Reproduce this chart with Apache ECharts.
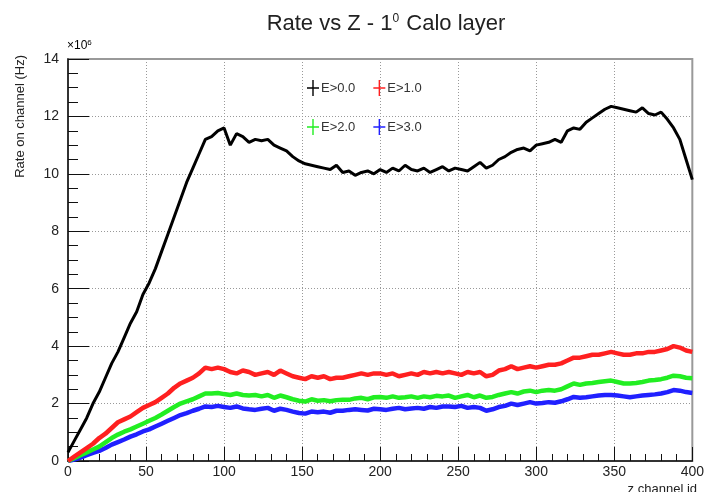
<!DOCTYPE html>
<html>
<head>
<meta charset="utf-8">
<script src="https://cdn.jsdelivr.net/npm/echarts@6/dist/echarts.min.js"></script>
<style>html,body{margin:0;padding:0;background:#fff}#c{width:707px;height:492px}</style>
</head>
<body>
<div id="c"></div>
<script>
// channel ids (z channel id), sampled every 4 channels
const channels = [0,4,8,12,16,20,24,28,32,36,40,44,48,52,56,60,64,68,72,76,80,84,88,92,96,100,
104,108,112,116,120,124,128,132,136,140,144,148,152,156,160,164,168,172,176,180,184,188,192,196,200,
204,208,212,216,220,224,228,232,236,240,244,248,252,256,260,264,268,272,276,280,284,288,292,296,300,
304,308,312,316,320,324,328,332,336,340,344,348,352,356,360,364,368,372,376,380,384,388,392,396,400];

// rates in units of 10^6 Hz
const rateE00 = [0.3,0.7,1.1,1.5,2.0,2.4,2.9,3.4,3.8,4.3,4.8,5.2,5.8,6.2,6.7,7.3,7.9,8.5,9.1,9.7,10.2,10.7,11.2,11.3,11.5,11.6,
11.0,11.4,11.3,11.1,11.2,11.15,11.2,11.0,10.9,10.8,10.6,10.45,10.35,10.3,10.25,10.2,10.15,10.3,10.05,10.1,9.95,10.05,10.1,10.0,10.15,
10.05,10.2,10.1,10.3,10.15,10.1,10.2,10.05,10.15,10.25,10.1,10.2,10.15,10.1,10.25,10.4,10.2,10.3,10.5,10.6,10.75,10.85,10.9,10.8,11.0,
11.05,11.1,11.2,11.1,11.5,11.6,11.55,11.8,11.95,12.1,12.25,12.35,12.3,12.25,12.2,12.15,12.3,12.1,12.05,12.15,11.9,11.6,11.2,10.5,9.8];

const rateE10 = [0.0,0.15,0.3,0.45,0.6,0.8,0.95,1.15,1.35,1.45,1.55,1.7,1.85,1.95,2.05,2.2,2.35,2.55,2.7,2.8,2.9,3.05,3.25,3.2,3.25,3.2,
3.1,3.05,3.15,3.1,3.0,3.05,3.1,3.0,3.15,3.05,2.95,2.9,2.85,2.95,2.9,2.95,2.85,2.9,2.9,2.95,3.0,3.05,3.0,3.05,3.05,
3.0,3.05,2.95,3.0,3.05,3.0,3.1,3.05,3.1,3.05,3.1,3.05,3.0,3.1,3.05,3.1,2.95,3.0,3.15,3.2,3.3,3.2,3.25,3.3,3.25,
3.3,3.35,3.35,3.4,3.5,3.6,3.6,3.65,3.7,3.7,3.75,3.8,3.75,3.7,3.7,3.75,3.75,3.8,3.8,3.85,3.9,4.0,3.95,3.85,3.8];

const rateE20 = [0.0,0.1,0.2,0.3,0.4,0.5,0.65,0.8,0.92,1.02,1.1,1.2,1.3,1.4,1.5,1.62,1.75,1.88,2.0,2.08,2.15,2.25,2.35,2.35,2.37,2.33,
2.3,2.35,2.3,2.28,2.3,2.25,2.3,2.2,2.28,2.22,2.15,2.1,2.07,2.15,2.1,2.12,2.08,2.12,2.13,2.13,2.18,2.2,2.15,2.22,2.23,
2.2,2.25,2.2,2.22,2.25,2.2,2.25,2.22,2.27,2.25,2.28,2.2,2.25,2.3,2.22,2.28,2.2,2.23,2.3,2.35,2.4,2.35,2.42,2.45,2.4,
2.45,2.47,2.45,2.5,2.6,2.7,2.65,2.7,2.72,2.75,2.78,2.8,2.75,2.7,2.7,2.72,2.75,2.8,2.82,2.85,2.9,2.97,2.95,2.9,2.88];

const rateE30 = [0.0,0.05,0.12,0.2,0.28,0.35,0.45,0.57,0.66,0.75,0.85,0.93,1.03,1.1,1.2,1.3,1.4,1.5,1.6,1.67,1.75,1.82,1.9,1.88,1.92,1.88,
1.85,1.9,1.83,1.8,1.78,1.82,1.85,1.75,1.82,1.78,1.72,1.67,1.65,1.72,1.7,1.72,1.68,1.75,1.75,1.78,1.8,1.78,1.76,1.82,1.8,
1.78,1.82,1.85,1.8,1.83,1.85,1.82,1.88,1.85,1.9,1.9,1.88,1.92,1.85,1.88,1.85,1.75,1.8,1.88,1.92,2.0,1.95,2.0,2.05,2.0,
2.02,2.05,2.03,2.08,2.15,2.23,2.2,2.22,2.25,2.28,2.3,2.3,2.28,2.25,2.22,2.25,2.28,2.3,2.32,2.35,2.4,2.47,2.45,2.4,2.37];

const seriesNames = ['E>0.0','E>1.0','E>2.0','E>3.0'];
const seriesColors = ['#000000','#ff2020','#22ee22','#2020ff'];
const seriesData = [rateE00, rateE10, rateE20, rateE30];

const crossIcon = 'path://M5.3,0H6.7V7.3H12V8.7H6.7V16H5.3V8.7H0V7.3H5.3Z';
const FONT = 'Liberation Sans, Arial, Helvetica, sans-serif';

const chart = echarts.init(document.getElementById('c'));
const legendBase = {
  left: 302, itemGap: 18, itemWidth: 12, itemHeight: 16, icon: crossIcon,
  textStyle: {fontFamily: FONT, fontSize: 13, color: '#333', padding: [0,0,0,-3]},
  selectedMode: false
};
chart.setOption({
  animation: false,
  title: {
    text: '{a|Rate vs Z - 1}{s|0}{a| Calo layer}',
    left: 381, top: 8, textAlign: 'center',
    textStyle: {fontWeight: 'normal', rich: {
      a: {fontFamily: FONT, fontSize: 22, fontWeight: 'normal', color: '#222'},
      s: {fontFamily: FONT, fontSize: 12, fontWeight: 'normal', color: '#222', verticalAlign: 'top', padding: [0,1,10,0]}
    }}
  },
  legend: [
    Object.assign({}, legendBase, {top: 75, data: [seriesNames[0], seriesNames[1]]}),
    Object.assign({}, legendBase, {top: 114, data: [seriesNames[2], seriesNames[3]]})
  ],
  grid: {left: 68, right: 11, top: 59, bottom: 31, show: true, borderColor: '#999', borderWidth: 2},
  xAxis: {
    type: 'value', min: 0, max: 400, interval: 50,
    axisLine: {show: true, onZero: false, lineStyle: {color: '#111', width: 1.5}},
    axisTick: {inside: true, length: 14, lineStyle: {color: '#111'}},
    minorTick: {show: true, splitNumber: 5, length: 7, lineStyle: {color: '#111'}},
    axisLabel: {fontFamily: FONT, fontSize: 14, color: '#222', margin: 4},
    splitLine: {show: true, lineStyle: {color: '#999', type: [1,2], width: 1}}
  },
  yAxis: {
    type: 'value', min: 0, max: 14, interval: 2,
    axisLine: {show: true, onZero: false, lineStyle: {color: '#111', width: 1.5}},
    axisTick: {inside: true, length: 21, lineStyle: {color: '#111'}},
    minorTick: {show: true, splitNumber: 4, length: 10, lineStyle: {color: '#111'}},
    axisLabel: {fontFamily: FONT, fontSize: 14, color: '#222', margin: 9},
    splitLine: {show: true, lineStyle: {color: '#999', type: [1,2], width: 1}}
  },
  graphic: [
    {type: 'text', left: 67, top: 39, style: {
      text: '{a|×10}{s|6}', rich: {
        a: {fontFamily: FONT, fontSize: 12, color: '#333'},
        s: {fontFamily: FONT, fontSize: 8, color: '#333', verticalAlign: 'top', padding: [0,0,6,0]}
      }}},
    {type: 'text', x: 20, y: 55, rotation: Math.PI / 2, style: {
      text: 'Rate on channel (Hz)', fontFamily: FONT, fontSize: 13, fill: '#222',
      align: 'right', verticalAlign: 'middle'}},
    {type: 'text', x: 697, y: 489, style: {
      text: 'z channel id', fontFamily: FONT, fontSize: 13, fill: '#222',
      align: 'right', verticalAlign: 'middle'}}
  ],
  series: seriesNames.map((name, i) => ({
    name: name, type: 'line',
    data: channels.map((c, k) => [c, seriesData[i][k]]),
    showSymbol: false, symbol: 'none',
    lineStyle: {color: seriesColors[i], width: i === 0 ? 3 : 4.5},
    itemStyle: {color: seriesColors[i]},
    z: 10 - i
  }))
});
</script>
</body>
</html>
